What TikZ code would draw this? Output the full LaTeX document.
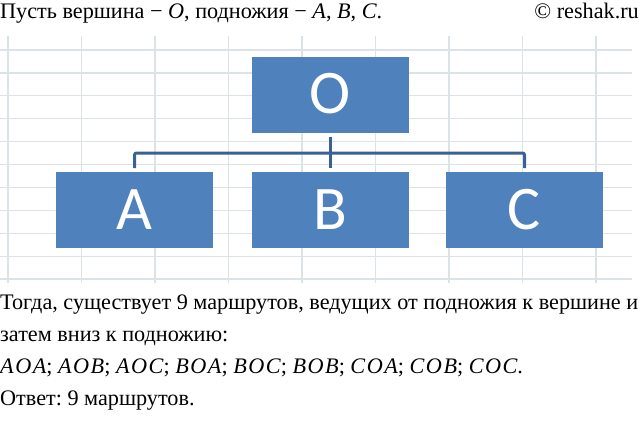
\documentclass[tikz,border=0pt]{standalone}
\usepackage{fontspec}
\setmainfont{Liberation Serif}
\newfontfamily\boxfont{Carlito}
\definecolor{gridc}{RGB}{220,227,230}
\definecolor{boxc}{RGB}{79,129,189}
\definecolor{linec}{RGB}{58,97,148}
\newcommand{\mi}[1]{\textit{#1}}
\newcommand{\tri}[3]{\textit{#1\kern1.5pt #2\kern1.5pt #3}}
\begin{document}
\begin{tikzpicture}[x=1pt,y=-1pt,
  gridline/.style={draw=gridc,line width=1.2pt},
  blockbox/.style={fill=boxc,draw=none,minimum width=157pt,minimum height=76pt,inner sep=0pt},
  blocklabel/.style={text=white,font=\boxfont\fontsize{62}{62}\selectfont,inner sep=0pt,anchor=base},
  conn/.style={draw=linec,line width=3pt,rounded corners=2pt},
  txt/.style={anchor=base west,inner sep=0pt,font=\fontsize{22.2}{24}\selectfont}]
\useasboundingbox (0,0) rectangle (644,421);
% grid
\foreach \k in {0,...,8} \draw[gridline] ({8+73.5*\k},36) -- ({8+73.5*\k},283);
\foreach \k in {0,...,10} \draw[gridline] (0,{50+22.9*\k}) -- (632,{50+22.9*\k});
% boxes
\node[blockbox] (O) at (330,95) {};
\node[blockbox] (A) at (134.5,210) {};
\node[blockbox] (B) at (330.5,210) {};
\node[blockbox] (C) at (524.5,210) {};
\node[blocklabel] (Ol) at (330,113) {O};
\node[blocklabel] (Al) at (134.5,229) {A};
\node[blocklabel] (Bl) at (330.5,229) {B};
\node[blocklabel] (Cl) at (524.5,229) {C};
% connectors
\coordinate (oj) at (330,137);
\coordinate (aj) at (134.5,168);
\coordinate (bj) at (330,168);
\coordinate (cj) at (524.5,168);
\draw[conn] (aj) -- (134.5,153) -- (524.5,153) -- (cj);
\draw[conn] (oj) -- (bj);
% texts
\node[txt] (h1) at (0,18) {Пусть вершина − \mi{O}, подножия − \mi{A}, \mi{B}, \mi{C}.};
\node[txt,anchor=base east] (h2) at (639,18) {© reshak.ru};
\node[txt] (t1) at (0,309) {Тогда, существует 9 маршрутов, ведущих от подножия к вершине и};
\node[txt] (t2) at (0,341) {затем вниз к подножию:};
\node[txt] (t3) at (0,373) {\tri AOA; \tri AOB; \tri AOC; \tri BOA; \tri BOC; \tri BOB; \tri COA; \tri COB; \tri COC.};
\node[txt] (t4) at (0,405) {Ответ:\ 9 маршрутов.};
\end{tikzpicture}
\end{document}
